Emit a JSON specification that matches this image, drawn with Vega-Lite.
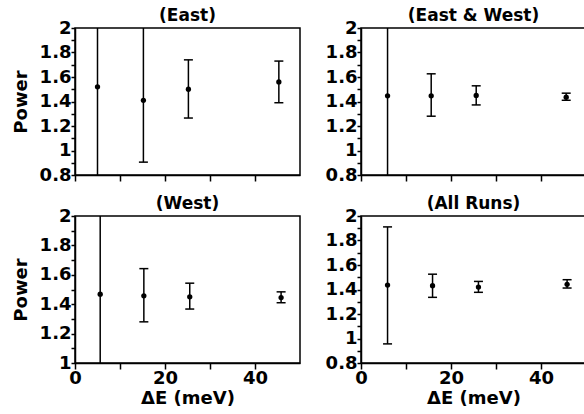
{
  "$schema": "https://vega.github.io/schema/vega-lite/v6.json",
  "padding": {"left": 11, "top": 6, "right": 0, "bottom": 0},
  "background": "white",
  "data": {"values": [
    {"panel": "East", "dE": 5.0, "p": 1.52, "lo": 0.5, "hi": 2.5},
    {"panel": "East", "dE": 15.2, "p": 1.41, "lo": 0.905, "hi": 2.3},
    {"panel": "East", "dE": 25.2, "p": 1.50, "lo": 1.265, "hi": 1.74},
    {"panel": "East", "dE": 45.3, "p": 1.56, "lo": 1.39, "hi": 1.73},
    {"panel": "EW", "dE": 5.9, "p": 1.446, "lo": 0.5, "hi": 2.5},
    {"panel": "EW", "dE": 15.6, "p": 1.446, "lo": 1.28, "hi": 1.626},
    {"panel": "EW", "dE": 25.6, "p": 1.45, "lo": 1.372, "hi": 1.528},
    {"panel": "EW", "dE": 45.6, "p": 1.435, "lo": 1.41, "hi": 1.468},
    {"panel": "West", "dE": 5.6, "p": 1.468, "lo": 0.5, "hi": 2.5},
    {"panel": "West", "dE": 15.3, "p": 1.457, "lo": 1.28, "hi": 1.642},
    {"panel": "West", "dE": 25.5, "p": 1.45, "lo": 1.367, "hi": 1.543},
    {"panel": "West", "dE": 45.8, "p": 1.445, "lo": 1.41, "hi": 1.484},
    {"panel": "All", "dE": 5.9, "p": 1.436, "lo": 0.956, "hi": 1.911},
    {"panel": "All", "dE": 15.9, "p": 1.431, "lo": 1.336, "hi": 1.525},
    {"panel": "All", "dE": 26.1, "p": 1.42, "lo": 1.377, "hi": 1.466},
    {"panel": "All", "dE": 45.8, "p": 1.442, "lo": 1.412, "hi": 1.48}
  ]},
  "columns": 2,
  "spacing": {"row": 9, "column": 23},
  "concat": [
    {
      "title": "(East)",
      "width": 225, "height": 147,
      "transform": [{"filter": "datum.panel == 'East'"}],
      "encoding": {
        "x": {"field": "dE", "type": "quantitative", "scale": {"domain": [0, 50]}, "axis": {"title": null, "labels": false, "values": [0, 10, 20, 30, 40]}}
      },
      "layer": [
        {"mark": {"type": "rule", "clip": true, "strokeWidth": 1.5, "color": "black"},
         "encoding": {"y": {"field": "lo", "type": "quantitative", "scale": {"domain": [0.8, 2]}, "axis": {"title": "Power", "format": "~g", "values": [0.8, 1.0, 1.2, 1.4, 1.6, 1.8, 2.0]}}, "y2": {"field": "hi"}}},
        {"mark": {"type": "tick", "orient": "horizontal", "clip": true, "size": 9, "thickness": 1.5, "color": "black", "opacity": 1}, "encoding": {"y": {"field": "lo", "type": "quantitative", "axis": null}}},
        {"mark": {"type": "tick", "orient": "horizontal", "clip": true, "size": 9, "thickness": 1.5, "color": "black", "opacity": 1}, "encoding": {"y": {"field": "hi", "type": "quantitative", "axis": null}}},
        {"mark": {"type": "point", "filled": true, "size": 28, "color": "black", "opacity": 1}, "encoding": {"y": {"field": "p", "type": "quantitative", "axis": {"title": null, "labels": false, "domain": false, "orient": "left", "values": [0.9, 1.1, 1.3, 1.5, 1.7, 1.9]}}}}
      ],
      "resolve": {"axis": {"y": "independent"}}
    },
    {
      "title": "(East & West)",
      "width": 225, "height": 147,
      "transform": [{"filter": "datum.panel == 'EW'"}],
      "encoding": {
        "x": {"field": "dE", "type": "quantitative", "scale": {"domain": [0, 50]}, "axis": {"title": null, "labels": false, "values": [0, 10, 20, 30, 40]}}
      },
      "layer": [
        {"mark": {"type": "rule", "clip": true, "strokeWidth": 1.5, "color": "black"},
         "encoding": {"y": {"field": "lo", "type": "quantitative", "scale": {"domain": [0.8, 2]}, "axis": {"title": null, "format": "~g", "values": [0.8, 1.0, 1.2, 1.4, 1.6, 1.8, 2.0]}}, "y2": {"field": "hi"}}},
        {"mark": {"type": "tick", "orient": "horizontal", "clip": true, "size": 9, "thickness": 1.5, "color": "black", "opacity": 1}, "encoding": {"y": {"field": "lo", "type": "quantitative", "axis": null}}},
        {"mark": {"type": "tick", "orient": "horizontal", "clip": true, "size": 9, "thickness": 1.5, "color": "black", "opacity": 1}, "encoding": {"y": {"field": "hi", "type": "quantitative", "axis": null}}},
        {"mark": {"type": "point", "filled": true, "size": 28, "color": "black", "opacity": 1}, "encoding": {"y": {"field": "p", "type": "quantitative", "axis": {"title": null, "labels": false, "domain": false, "orient": "left", "values": [0.9, 1.1, 1.3, 1.5, 1.7, 1.9]}}}}
      ],
      "resolve": {"axis": {"y": "independent"}}
    },
    {
      "title": "(West)",
      "width": 225, "height": 147,
      "transform": [{"filter": "datum.panel == 'West'"}],
      "encoding": {
        "x": {"field": "dE", "type": "quantitative", "scale": {"domain": [0, 50]}, "axis": {"title": "ΔE (meV)", "values": [0, 10, 20, 30, 40], "labelExpr": "datum.value % 20 == 0 ? datum.label : ''"}}
      },
      "layer": [
        {"mark": {"type": "rule", "clip": true, "strokeWidth": 1.5, "color": "black"},
         "encoding": {"y": {"field": "lo", "type": "quantitative", "scale": {"domain": [1, 2]}, "axis": {"title": "Power", "format": "~g", "values": [1.0, 1.2, 1.4, 1.6, 1.8, 2.0]}}, "y2": {"field": "hi"}}},
        {"mark": {"type": "tick", "orient": "horizontal", "clip": true, "size": 9, "thickness": 1.5, "color": "black", "opacity": 1}, "encoding": {"y": {"field": "lo", "type": "quantitative", "axis": null}}},
        {"mark": {"type": "tick", "orient": "horizontal", "clip": true, "size": 9, "thickness": 1.5, "color": "black", "opacity": 1}, "encoding": {"y": {"field": "hi", "type": "quantitative", "axis": null}}},
        {"mark": {"type": "point", "filled": true, "size": 28, "color": "black", "opacity": 1}, "encoding": {"y": {"field": "p", "type": "quantitative", "axis": {"title": null, "labels": false, "domain": false, "orient": "left", "values": [1.1, 1.3, 1.5, 1.7, 1.9]}}}}
      ],
      "resolve": {"axis": {"y": "independent"}}
    },
    {
      "title": "(All Runs)",
      "width": 225, "height": 147,
      "transform": [{"filter": "datum.panel == 'All'"}],
      "encoding": {
        "x": {"field": "dE", "type": "quantitative", "scale": {"domain": [0, 50]}, "axis": {"title": "ΔE (meV)", "values": [0, 10, 20, 30, 40], "labelExpr": "datum.value % 20 == 0 ? datum.label : ''"}}
      },
      "layer": [
        {"mark": {"type": "rule", "clip": true, "strokeWidth": 1.5, "color": "black"},
         "encoding": {"y": {"field": "lo", "type": "quantitative", "scale": {"domain": [0.8, 2]}, "axis": {"title": null, "format": "~g", "values": [0.8, 1.0, 1.2, 1.4, 1.6, 1.8, 2.0]}}, "y2": {"field": "hi"}}},
        {"mark": {"type": "tick", "orient": "horizontal", "clip": true, "size": 9, "thickness": 1.5, "color": "black", "opacity": 1}, "encoding": {"y": {"field": "lo", "type": "quantitative", "axis": null}}},
        {"mark": {"type": "tick", "orient": "horizontal", "clip": true, "size": 9, "thickness": 1.5, "color": "black", "opacity": 1}, "encoding": {"y": {"field": "hi", "type": "quantitative", "axis": null}}},
        {"mark": {"type": "point", "filled": true, "size": 28, "color": "black", "opacity": 1}, "encoding": {"y": {"field": "p", "type": "quantitative", "axis": {"title": null, "labels": false, "domain": false, "orient": "left", "values": [0.9, 1.1, 1.3, 1.5, 1.7, 1.9]}}}}
      ],
      "resolve": {"axis": {"y": "independent"}}
    }
  ],
  "config": {
    "font": "DejaVu Sans",
    "view": {"stroke": "black", "strokeWidth": 1.5},
    "title": {"fontSize": 17, "fontWeight": "bold", "color": "black", "offset": -6, "anchor": "middle"},
    "axis": {
      "grid": false,
      "labelOverlap": false,
      "domainColor": "black", "domainWidth": 1.5,
      "tickColor": "black", "tickWidth": 1.5,
      "labelFont": "DejaVu Sans", "labelFontSize": 18, "labelFontWeight": "bold", "labelColor": "black",
      "titleFont": "DejaVu Sans", "titleFontSize": 18, "titleFontWeight": "bold", "titleColor": "black"
    },
    "axisY": {"tickSize": 4, "labelPadding": 0, "titlePadding": 9},
    "axisX": {"tickSize": 6, "labelPadding": 0, "titlePadding": 2, "labelFlush": false}
  }
}
